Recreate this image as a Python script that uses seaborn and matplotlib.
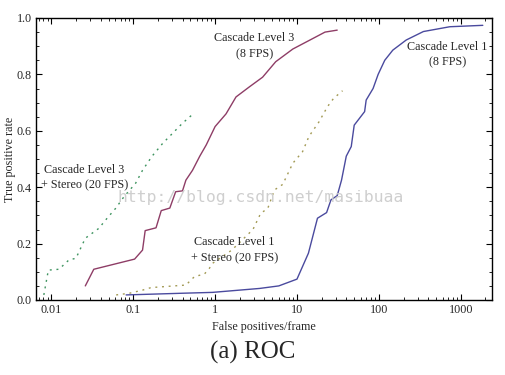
import numpy as np
import pandas as pd
import seaborn as sns
import matplotlib.pyplot as plt
from matplotlib.ticker import FixedLocator, LogLocator, NullFormatter, FuncFormatter


# =========================
# DATI
# =========================

# Cascade Level 1 (8 FPS)
lvl1_x = [0.082, 0.4, 0.93, 3.5, 6.0, 10.0, 13.8, 17.8, 23.0, 26.0, 31.0, 35.0,
          40.0, 46.0, 50.0, 67.0, 70.0, 85.0, 98.0, 118.0, 148.0, 216.0, 350.0, 735.0, 1860.0]
lvl1_y = [0.018, 0.024, 0.027, 0.041, 0.05, 0.074, 0.166, 0.29, 0.31, 0.355, 0.37, 0.425,
          0.51, 0.544, 0.62, 0.668, 0.709, 0.75, 0.80, 0.85, 0.886, 0.922, 0.952, 0.969, 0.974]

# Cascade Level 3 (8 FPS)
lvl3_x = [0.026, 0.033, 0.104, 0.13, 0.14, 0.19, 0.22, 0.28, 0.33, 0.40, 0.44, 0.53,
          0.65, 0.78, 1.0, 1.36, 1.8, 2.6, 3.8, 5.5, 8.9, 14.0, 22.0, 31.0]
lvl3_y = [0.05, 0.109, 0.145, 0.177, 0.246, 0.256, 0.317, 0.326, 0.384, 0.387, 0.425, 0.46,
          0.51, 0.55, 0.615, 0.66, 0.72, 0.755, 0.79, 0.845, 0.89, 0.92, 0.95, 0.957]

# Cascade Level 3 + Stereo (20 FPS)
lvl3s_x = [0.0081, 0.0092, 0.0124, 0.0164, 0.020, 0.026, 0.038, 0.048, 0.061, 0.077,
           0.107, 0.13, 0.17, 0.23, 0.30, 0.40, 0.53]
lvl3s_y = [0.018, 0.106, 0.109, 0.142, 0.148, 0.219, 0.254, 0.29, 0.325, 0.366,
           0.414, 0.46, 0.51, 0.556, 0.59, 0.627, 0.658]

# Cascade Level 1 + Stereo (20 FPS)
lvl1s_x = [0.062, 0.09, 0.13, 0.165, 0.44, 0.56, 0.74, 0.85, 0.93, 1.6, 2.9, 3.6,
           4.4, 5.3, 6.7, 8.9, 11.7, 14.0, 18.6, 23.5, 28.0, 36.0]
lvl1s_y = [0.018, 0.024, 0.035, 0.044, 0.053, 0.083, 0.092, 0.112, 0.13, 0.177, 0.25, 0.307,
           0.325, 0.39, 0.41, 0.485, 0.526, 0.58, 0.632, 0.685, 0.715, 0.742]

x_ticks = [0.01, 0.1, 1, 10, 100, 1000]
x_tick_labels = ["0.01", "0.1", "1", "10", "100", "1000"]
y_ticks = [0.0, 0.2, 0.4, 0.6, 0.8, 1.0]


# =========================
# ZĪMĒŠANA
# =========================

sns.set_theme(style="ticks")
plt.rcParams["font.family"] = ["Liberation Serif", "DejaVu Serif"]

FS = 8.7

fig = plt.figure(figsize=(5.05, 3.75), dpi=100)
ax = fig.add_axes([0.0713, 0.2, 0.9027, 0.752])

series = [
    (lvl1_x, lvl1_y, "#4a4a9e", "-"),
    (lvl3_x, lvl3_y, "#8e3d66", "-"),
    (lvl3s_x, lvl3s_y, "#3f9460", (0, (1.4, 3.4))),
    (lvl1s_x, lvl1s_y, "#a39a55", (0, (1.4, 3.4))),
]

for xs, ys, color, ls in series:
    df = pd.DataFrame({"x": xs, "y": ys})
    sns.lineplot(data=df, x="x", y="y", ax=ax, color=color, linestyle=ls,
                 linewidth=1.0, estimator=None, sort=False)

ax.set_xscale("log")
ax.set_xlim(0.0065, 2400)
ax.set_ylim(0, 1.0)

ax.xaxis.set_major_locator(FixedLocator(x_ticks))
ax.xaxis.set_major_formatter(FuncFormatter(lambda v, p: x_tick_labels[x_ticks.index(v)] if v in x_ticks else ""))
ax.xaxis.set_minor_locator(LogLocator(base=10, subs=np.arange(2, 10)))
ax.xaxis.set_minor_formatter(NullFormatter())
ax.yaxis.set_major_locator(FixedLocator(y_ticks))
ax.yaxis.set_minor_locator(FixedLocator(np.arange(0, 1.001, 0.05)))
ax.set_yticklabels(["0.0", "0.2", "0.4", "0.6", "0.8", "1.0"])

ax.tick_params(which="both", direction="in", top=True, right=True, labelsize=FS,
               color="black", pad=3)
ax.tick_params(which="major", length=4, width=0.8)
ax.tick_params(which="minor", length=2, width=0.6)
for sp in ax.spines.values():
    sp.set_color("black")
    sp.set_linewidth(1.0)

ax.set_xlabel("False positives/frame", fontsize=FS)
ax.set_ylabel("True positive rate", fontsize=FS)
ax.xaxis.set_label_coords(0.5, -0.075)
ax.yaxis.set_label_coords(-0.043, 0.5)

ax.text(3.0, 0.90, "Cascade Level 3\n(8 FPS)", ha="center", va="center", fontsize=FS, linespacing=1.4)
ax.text(690, 0.87, "Cascade Level 1\n(8 FPS)", ha="center", va="center", fontsize=FS, linespacing=1.4)
ax.text(0.0255, 0.433, "Cascade Level 3\n+ Stereo (20 FPS)", ha="center", va="center", fontsize=FS, linespacing=1.4)
ax.text(1.72, 0.177, "Cascade Level 1\n+ Stereo (20 FPS)", ha="center", va="center", fontsize=FS, linespacing=1.4)

fig.text(0.517, 0.474, "http://blog.csdn.net/masibuaa", ha="center", va="center",
         fontsize=11.8, family="DejaVu Sans Mono", color="#cfcfcf")

fig.text(0.5, 0.06, "(a) ROC", ha="center", va="center", fontsize=18)

plt.savefig("out.png", dpi=100)
plt.close()
